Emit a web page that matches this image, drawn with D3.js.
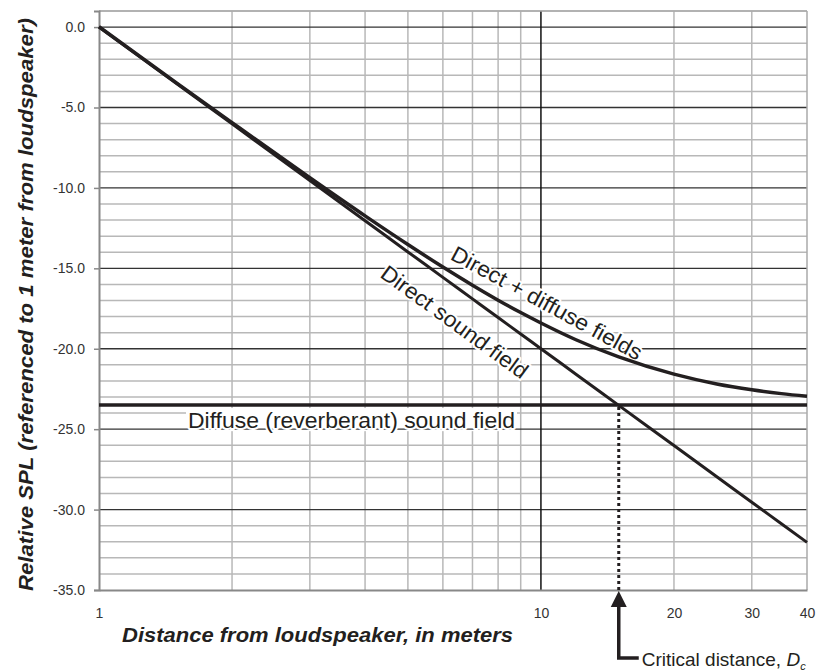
<!DOCTYPE html>
<html><head><meta charset="utf-8">
<script src="https://cdn.jsdelivr.net/npm/d3@7"></script>
<style>
html,body{margin:0;padding:0;background:#fff;}
svg{display:block;}
text{font-family:"Liberation Sans", Arial, sans-serif;}
</style></head><body>
<svg id="chart" width="826" height="671"></svg>
<script>
// ---- data ----
const distances   = [1, 1.5, 2, 3, 4, 5, 6, 7, 8, 9, 10, 12, 15, 20, 25, 30, 35, 40];
const directSPL   = [0, -3.52, -6.02, -9.54, -12.04, -13.98, -15.56, -16.90, -18.06, -19.08, -20.0, -21.58, -23.52, -26.02, -27.96, -29.54, -30.88, -32.04];
const combinedSPL = [0.02, -3.48, -5.94, -9.37, -11.74, -13.52, -14.92, -16.05, -16.98, -17.75, -18.40, -19.44, -20.51, -21.58, -22.19, -22.55, -22.79, -22.95];
const diffuseDistances = [1, 40];
const diffuseSPL  = [-23.5, -23.5];
const criticalDistance = [15];
const yTickValues = [0, -5, -10, -15, -20, -25, -30, -35];
const xTickValues = [1, 10, 20, 30, 40];
const xGridValues = [2, 3, 4, 5, 6, 7, 8, 9, 10, 20, 30];

const W = 826, H = 671;
const margin = {top: 11, right: 19, bottom: 81, left: 99};
const svg = d3.select("#chart");
svg.append("rect").attr("width", W).attr("height", H).attr("fill", "#fff");

const x = d3.scaleLog().domain([1, 40]).range([margin.left, W - margin.right]);
const y = d3.scaleLinear().domain([-35, 1]).range([H - margin.bottom, margin.top]);
const x0 = x.range()[0], x1 = x.range()[1], y0 = y.range()[0], y1 = y.range()[1];

const ink = "#231f20";

// ---- grid ----
const grid = svg.append("g");
const allY = d3.range(-35, 2, 1);
grid.selectAll(".minorY").data(allY.filter(v => v % 5 !== 0)).join("line")
  .attr("x1", x0).attr("x2", x1).attr("y1", d => y(d)).attr("y2", d => y(d))
  .attr("stroke", "#b8b8b8").attr("stroke-width", 1.5);
grid.selectAll(".vgrid").data(xGridValues.filter(v => v !== 10)).join("line")
  .attr("x1", d => x(d)).attr("x2", d => x(d)).attr("y1", y0).attr("y2", y1)
  .attr("stroke", "#b8b8b8").attr("stroke-width", 1.5);
grid.selectAll(".majorY").data(yTickValues.filter(v => v > -35)).join("line")
  .attr("x1", x0).attr("x2", x1).attr("y1", d => y(d)).attr("y2", d => y(d))
  .attr("stroke", "#333").attr("stroke-width", 1.3);
grid.append("line").attr("x1", x(10)).attr("x2", x(10)).attr("y1", y0).attr("y2", y1)
  .attr("stroke", "#111").attr("stroke-width", 1.5);
// borders top/right
grid.append("line").attr("x1", x0).attr("x2", x1).attr("y1", y1).attr("y2", y1)
  .attr("stroke", "#aaa").attr("stroke-width", 1.5);
grid.append("line").attr("x1", x1).attr("x2", x1).attr("y1", y0).attr("y2", y1)
  .attr("stroke", "#aaa").attr("stroke-width", 1.5);

// ---- axes ----
const yAxis = svg.append("g").attr("transform", `translate(${x0},0)`)
  .call(d3.axisLeft(y).tickValues(yTickValues).tickSize(5).tickPadding(9).tickFormat(d => d.toFixed(1)));
yAxis.select(".domain").attr("stroke", "#888").attr("stroke-width", 2);
yAxis.selectAll(".tick line").attr("stroke", "#888").attr("stroke-width", 1.5);
yAxis.selectAll(".tick text").attr("font-size", 14).attr("fill", "#333")
  .attr("font-family", '"Liberation Sans", Arial, sans-serif');

const xAxis = svg.append("g").attr("transform", `translate(0,${y0})`)
  .call(d3.axisBottom(x).tickValues(xTickValues).tickSize(0).tickPadding(18).tickFormat(d3.format("d")));
xAxis.select(".domain").attr("stroke", "#888").attr("stroke-width", 2);
xAxis.selectAll(".tick text").attr("font-size", 14).attr("fill", "#333")
  .attr("font-family", '"Liberation Sans", Arial, sans-serif');

// ---- axis titles ----
svg.append("text")
  .attr("transform", `translate(33,${(y0 + y1) / 2 + 4}) rotate(-90)`)
  .attr("text-anchor", "middle").attr("font-size", 21).attr("font-weight", "bold").attr("font-style", "italic")
  .attr("fill", ink).attr("textLength", 573).attr("lengthAdjust", "spacingAndGlyphs")
  .text("Relative SPL  (referenced to 1 meter from loudspeaker)");
svg.append("text")
  .attr("x", 122).attr("y", 642)
  .attr("font-size", 21).attr("font-weight", "bold").attr("font-style", "italic")
  .attr("fill", ink).attr("textLength", 391).attr("lengthAdjust", "spacingAndGlyphs")
  .text("Distance from loudspeaker, in meters");

// ---- curve labels ----
const halo = sel => sel.attr("stroke", "#fff").attr("stroke-width", 4).attr("paint-order", "stroke")
  .attr("stroke-linejoin", "round");

// Diffuse label with white background
const diffLabelX = x(1.59), diffLabelY = y(-25) - 1;
const diffG = svg.append("g");
const diffRect = diffG.append("rect").attr("fill", "#fff");
const diffLine = diffG.append("line").attr("stroke", "#333").attr("stroke-width", 1.3);
const diffText = diffG.append("text")
  .attr("x", diffLabelX).attr("y", diffLabelY)
  .attr("font-size", 22).attr("fill", ink).attr("textLength", 327).attr("lengthAdjust", "spacingAndGlyphs")
  .text("Diffuse (reverberant) sound field")
  .call(halo);
const bb = diffText.node().getBBox();
diffRect.attr("x", bb.x - 2).attr("width", bb.width + 4)
  .attr("y", y(-23.5) + 3).attr("height", y(-25) + 2 - (y(-23.5) + 3));
diffLine.attr("x1", bb.x - 2).attr("x2", bb.x + bb.width + 2).attr("y1", y(-25)).attr("y2", y(-25));

svg.append("text")
  .attr("transform", `translate(${x(4.3)},${y(-15.5)}) rotate(36)`)
  .attr("font-size", 22).attr("fill", ink).attr("textLength", 176).attr("lengthAdjust", "spacingAndGlyphs")
  .text("Direct sound field").call(halo);
svg.append("text")
  .attr("transform", `translate(${x(6.2)},${y(-14.4)}) rotate(28.5)`)
  .attr("font-size", 22).attr("fill", ink).attr("textLength", 214).attr("lengthAdjust", "spacingAndGlyphs")
  .text("Direct + diffuse fields").call(halo);

// ---- data lines ----
const line = d3.line().x(d => x(d[0])).y(d => y(d[1])).curve(d3.curveMonotoneX);
svg.append("path").datum(diffuseDistances.map((d, i) => [d, diffuseSPL[i]]))
  .attr("d", line).attr("fill", "none").attr("stroke", ink).attr("stroke-width", 3.5);
svg.append("path").datum(distances.map((d, i) => [d, directSPL[i]]))
  .attr("d", line).attr("fill", "none").attr("stroke", ink).attr("stroke-width", 3);
svg.append("path").datum(distances.map((d, i) => [d, combinedSPL[i]]))
  .attr("d", line).attr("fill", "none").attr("stroke", ink).attr("stroke-width", 3.5);

// ---- critical distance ----
const cx = x(criticalDistance[0]);
svg.append("line").attr("x1", cx).attr("x2", cx).attr("y1", y(diffuseSPL[0]) + 2).attr("y2", y0)
  .attr("stroke", ink).attr("stroke-width", 3).attr("stroke-dasharray", "3,3");
svg.append("path")
  .attr("d", `M${cx},${y0 + 15} V${y0 + 68} H${cx + 20}`)
  .attr("fill", "none").attr("stroke", ink).attr("stroke-width", 3.5);
svg.append("path")
  .attr("d", `M${cx},${y0 + 1} L${cx - 8},${y0 + 17} L${cx + 8},${y0 + 17} Z`)
  .attr("fill", ink);
const ct = svg.append("text").attr("x", cx + 23).attr("y", y0 + 76)
  .attr("font-size", 19).attr("fill", ink);
ct.append("tspan").text("Critical distance, ");
ct.append("tspan").attr("font-style", "italic").text("D");
ct.append("tspan").attr("font-style", "italic").attr("font-size", 11).attr("dy", 4).text("c");
</script></body></html>
